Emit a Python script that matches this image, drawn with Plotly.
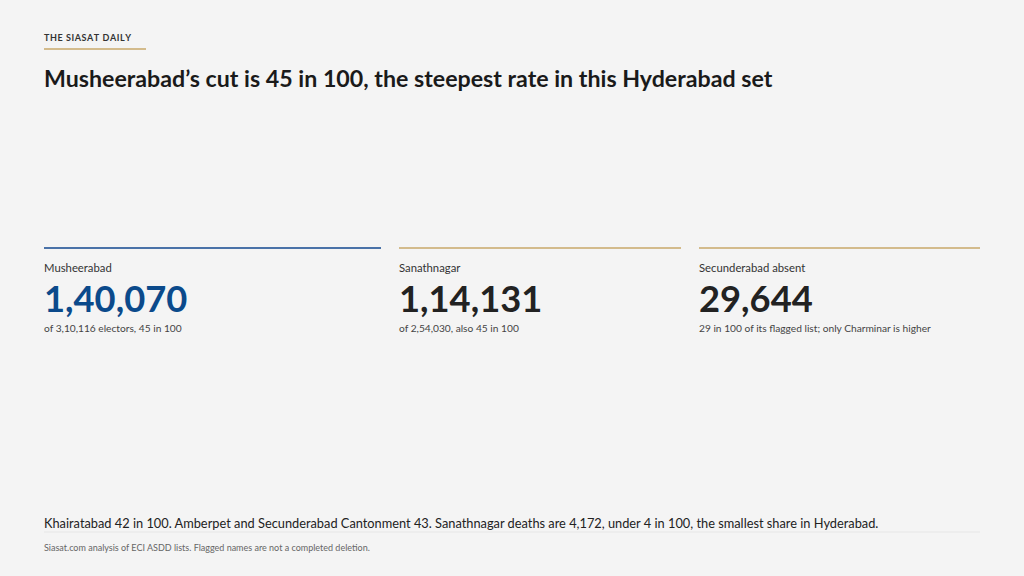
import plotly.graph_objects as go

W, H = 1024, 576

# Data
brand = "THE SIASAT DAILY"
title = "Musheerabad’s cut is 45 in 100, the steepest rate in this Hyderabad set"
card_labels = ["Musheerabad", "Sanathnagar", "Secunderabad absent"]
card_values = [140070, 114131, 29644]
card_notes = [
    "of 3,10,116 electors, 45 in 100",
    "of 2,54,030, also 45 in 100",
    "29 in 100 of its flagged list; only Charminar is higher",
]
footnote = ("Khairatabad 42 in 100. Amberpet and Secunderabad Cantonment 43. "
            "Sanathnagar deaths are 4,172, under 4 in 100, the smallest share in Hyderabad.")
source = "Siasat.com analysis of ECI ASDD lists. Flagged names are not a completed deletion."

# card geometry (px)
card_x0 = [44, 399, 699]
card_x1 = [381, 681, 980]
card_accent = ["#4a72a8", "#c9a86a", "#c9a86a"]
card_num_color = ["#0b4a8b", "#222222", "#222222"]

FONT = "Lato, 'Noto Sans', sans-serif"
PAD = 2  # annotation box padding, px


def indian(n):
    s = str(n)
    if len(s) <= 3:
        return s
    head, tail = s[:-3], s[-3:]
    parts = []
    while len(head) > 2:
        parts.insert(0, head[-2:])
        head = head[:-2]
    if head:
        parts.insert(0, head)
    return ",".join(parts) + "," + tail


def px(x):
    return x / W


def py(y):
    return 1 - y / H


def tx(x):
    return (x - PAD) / W


fig = go.Figure()
ann = []
shapes = []

# letter-spaced brand line
spaced = "\u200a".join(brand)
ann.append(dict(x=tx(44), y=py(37), text=f"<b>{spaced}</b>", xanchor="left", yanchor="middle",
                font=dict(size=9, color="#333333", family=FONT)))
shapes.append(dict(type="line", x0=px(44), x1=px(146), y0=py(49), y1=py(49),
                   line=dict(color="#c9a86a", width=1.5)))
ann.append(dict(x=tx(44), y=py(78), text=f"<b>{title}</b>", xanchor="left", yanchor="middle",
                font=dict(size=23.2, color="#1a1a1a", family=FONT)))

for i in range(len(card_labels)):
    shapes.append(dict(type="line", x0=px(card_x0[i]), x1=px(card_x1[i]), y0=py(248), y1=py(248),
                       line=dict(color=card_accent[i], width=2 if i == 0 else 1.5)))
    ann.append(dict(x=tx(card_x0[i]), y=py(267), text=card_labels[i], xanchor="left", yanchor="middle",
                    font=dict(size=11.3, color="#333333", family=FONT)))
    ann.append(dict(x=tx(card_x0[i]), y=py(298), text=f"<b>{indian(card_values[i])}</b>",
                    xanchor="left", yanchor="middle",
                    font=dict(size=36.3, color=card_num_color[i], family=FONT)))
    ann.append(dict(x=tx(card_x0[i]), y=py(328), text=card_notes[i], xanchor="left", yanchor="middle",
                    font=dict(size=10.2, color="#444444", family=FONT)))

ann.append(dict(x=tx(44), y=py(523), text=footnote, xanchor="left", yanchor="middle",
                font=dict(size=12.8, color="#222222", family=FONT)))
shapes.append(dict(type="line", x0=px(44), x1=px(980), y0=py(532), y1=py(532),
                   line=dict(color="#e6e6e6", width=1)))
ann.append(dict(x=tx(44), y=py(547), text=source, xanchor="left", yanchor="middle",
                font=dict(size=9, color="#666666", family=FONT)))

for a in ann:
    a.update(xref="paper", yref="paper", showarrow=False)
for s in shapes:
    s.update(xref="paper", yref="paper")

fig.update_layout(
    width=W, height=H,
    margin=dict(l=0, r=0, t=0, b=0),
    paper_bgcolor="#f4f4f4",
    plot_bgcolor="#f4f4f4",
    xaxis=dict(visible=False, range=[0, 1]),
    yaxis=dict(visible=False, range=[0, 1]),
    annotations=ann,
    shapes=shapes,
    showlegend=False,
)

fig.write_html(
    "out.html",
    config={"displayModeBar": False},
    post_script="document.body.style.margin='0';document.body.style.background='#f4f4f4';",
)
